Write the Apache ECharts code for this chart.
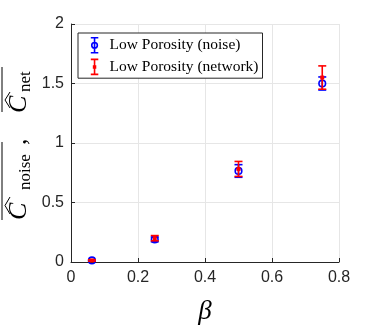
<!DOCTYPE html>
<html>
<head>
<meta charset="utf-8">
<script src="https://cdn.jsdelivr.net/npm/echarts@6/dist/echarts.min.js"></script>
<style>
  html, body { margin: 0; padding: 0; background: #fff; }
  #chart { width: 374px; height: 332px; }
</style>
</head>
<body>
<div id="chart"></div>
<script>
// data
const beta = [0.0625, 0.25, 0.5, 0.75]
const noiseMean = [0.013, 0.19, 0.765, 1.50]
const noiseErr = [0.006, 0.02, 0.053, 0.055]
const netMean = [0.013, 0.20, 0.782, 1.55]
const netErr = [0.006, 0.022, 0.063, 0.098]
const xTicks = [0, 0.2, 0.4, 0.6, 0.8]
const yTicks = [0, 0.5, 1, 1.5, 2]
const seriesNames = ['Low Porosity (noise)', 'Low Porosity (network)']

const BLUE = '#0000ff'
const RED = '#ff0000'
const AXIS = '#262626'

const chart = echarts.init(document.getElementById('chart'), null, { renderer: 'canvas' })

// errorbar + marker drawn through the axis scales
const errRender = (color, marker) => (params, api) => {
  const x = api.value(0)
  const y = api.value(1)
  const e = api.value(2)
  const c = api.coord([x, y])
  const hi = api.coord([x, y + e])
  const lo = api.coord([x, y - e])
  const w = 4
  const ls = { stroke: color, lineWidth: 1.6 }
  const children = [
    { type: 'line', shape: { x1: c[0], y1: hi[1], x2: c[0], y2: lo[1] }, style: ls },
    { type: 'line', shape: { x1: c[0] - w, y1: hi[1], x2: c[0] + w, y2: hi[1] }, style: ls },
    { type: 'line', shape: { x1: c[0] - w, y1: lo[1], x2: c[0] + w, y2: lo[1] }, style: ls }
  ]
  if (marker === 'circle') {
    children.push({ type: 'circle', shape: { cx: c[0], cy: c[1], r: 3.3 }, style: { fill: 'none', stroke: color, lineWidth: 1.6 } })
  } else {
    children.push({ type: 'rect', shape: { x: c[0] - 2, y: c[1] - 2, width: 4, height: 4 }, style: { fill: color } })
  }
  return { type: 'group', children }
}

const toData = (m, e) => beta.map((b, i) => [b, m[i], e[i]])

// rotated y axis label (overline C hat noise, overline C hat net)
const serif = 'Liberation Serif'
const yLabel = {
  type: 'group',
  x: 0,
  y: 222,
  rotation: Math.PI / 2,
  children: [
    { type: 'line', shape: { x1: 2, y1: 2, x2: 80, y2: 2 }, style: { stroke: '#000', lineWidth: 1 } },
    { type: 'polyline', shape: { points: [[8, 10], [16.5, 5], [25, 10]] }, style: { stroke: '#000', lineWidth: 1, fill: 'none' } },
    { type: 'text', x: 2, y: 19, style: { text: 'C', fontFamily: serif, fontStyle: 'italic', fontSize: 26, fill: '#000', verticalAlign: 'middle' } },
    { type: 'text', x: 32, y: 26, style: { text: 'noise', fontFamily: serif, fontSize: 17, fill: '#000', verticalAlign: 'middle' } },
    { type: 'text', x: 77, y: 19, style: { text: ',', fontFamily: serif, fontSize: 26, fill: '#000', verticalAlign: 'middle' } },
    { type: 'line', shape: { x1: 110, y1: 2, x2: 155, y2: 2 }, style: { stroke: '#000', lineWidth: 1 } },
    { type: 'polyline', shape: { points: [[114, 10], [122, 5], [130, 10]] }, style: { stroke: '#000', lineWidth: 1, fill: 'none' } },
    { type: 'text', x: 109, y: 19, style: { text: 'C', fontFamily: serif, fontStyle: 'italic', fontSize: 26, fill: '#000', verticalAlign: 'middle' } },
    { type: 'text', x: 130, y: 26, style: { text: 'net', fontFamily: serif, fontSize: 17, fill: '#000', verticalAlign: 'middle' } }
  ]
}

const axisCommon = {
  type: 'value',
  axisLine: { show: true, onZero: false, lineStyle: { color: AXIS, width: 1 } },
  axisTick: { show: true, inside: true, length: 4, lineStyle: { color: AXIS } },
  axisLabel: { color: AXIS, fontSize: 16, fontFamily: 'Liberation Sans' },
  splitLine: { show: true, lineStyle: { color: '#e6e6e6', width: 1 } }
}

const option = {
  backgroundColor: '#fff',
  animation: false,
  grid: { left: 71, right: 35, top: 24, bottom: 70 },
  xAxis: {
    ...axisCommon,
    min: xTicks[0],
    max: xTicks[xTicks.length - 1],
    interval: xTicks[1] - xTicks[0],
    axisLabel: { ...axisCommon.axisLabel, margin: 8 },
    name: 'β',
    nameLocation: 'middle',
    nameGap: 36,
    nameTextStyle: { fontFamily: serif, fontStyle: 'italic', fontSize: 27, color: '#000' }
  },
  yAxis: {
    ...axisCommon,
    min: yTicks[0],
    max: yTicks[yTicks.length - 1],
    interval: yTicks[1] - yTicks[0],
    axisLabel: { ...axisCommon.axisLabel, margin: 7 }
  },
  legend: {
    orient: 'vertical',
    left: 78,
    top: 33,
    padding: [4, 4, 3, 12],
    itemGap: 5,
    itemWidth: 20,
    itemHeight: 15,
    selectedMode: false,
    backgroundColor: '#fff',
    borderColor: AXIS,
    borderWidth: 1,
    borderRadius: 0,
    textStyle: { fontFamily: serif, fontSize: 15.5, color: '#000' },
    data: [
      {
        name: seriesNames[0],
        icon: 'path://M0,0H8M4,0V16M0,16H8M7,8A3,3,0,1,1,1,8A3,3,0,1,1,7,8Z',
        itemStyle: { color: 'transparent', borderColor: BLUE, borderWidth: 1.6 }
      },
      {
        name: seriesNames[1],
        icon: 'path://M0,0H8M4,0V16M0,16H8M3,7H5V9H3Z',
        itemStyle: { color: 'transparent', borderColor: RED, borderWidth: 1.6 }
      }
    ]
  },
  graphic: [yLabel],
  series: [
    {
      name: seriesNames[0],
      type: 'custom',
      itemStyle: { color: BLUE },
      renderItem: errRender(BLUE, 'circle'),
      data: toData(noiseMean, noiseErr)
    },
    {
      name: seriesNames[1],
      type: 'custom',
      itemStyle: { color: RED },
      renderItem: errRender(RED, 'dot'),
      data: toData(netMean, netErr)
    }
  ]
}

chart.setOption(option)
</script>
</body>
</html>
